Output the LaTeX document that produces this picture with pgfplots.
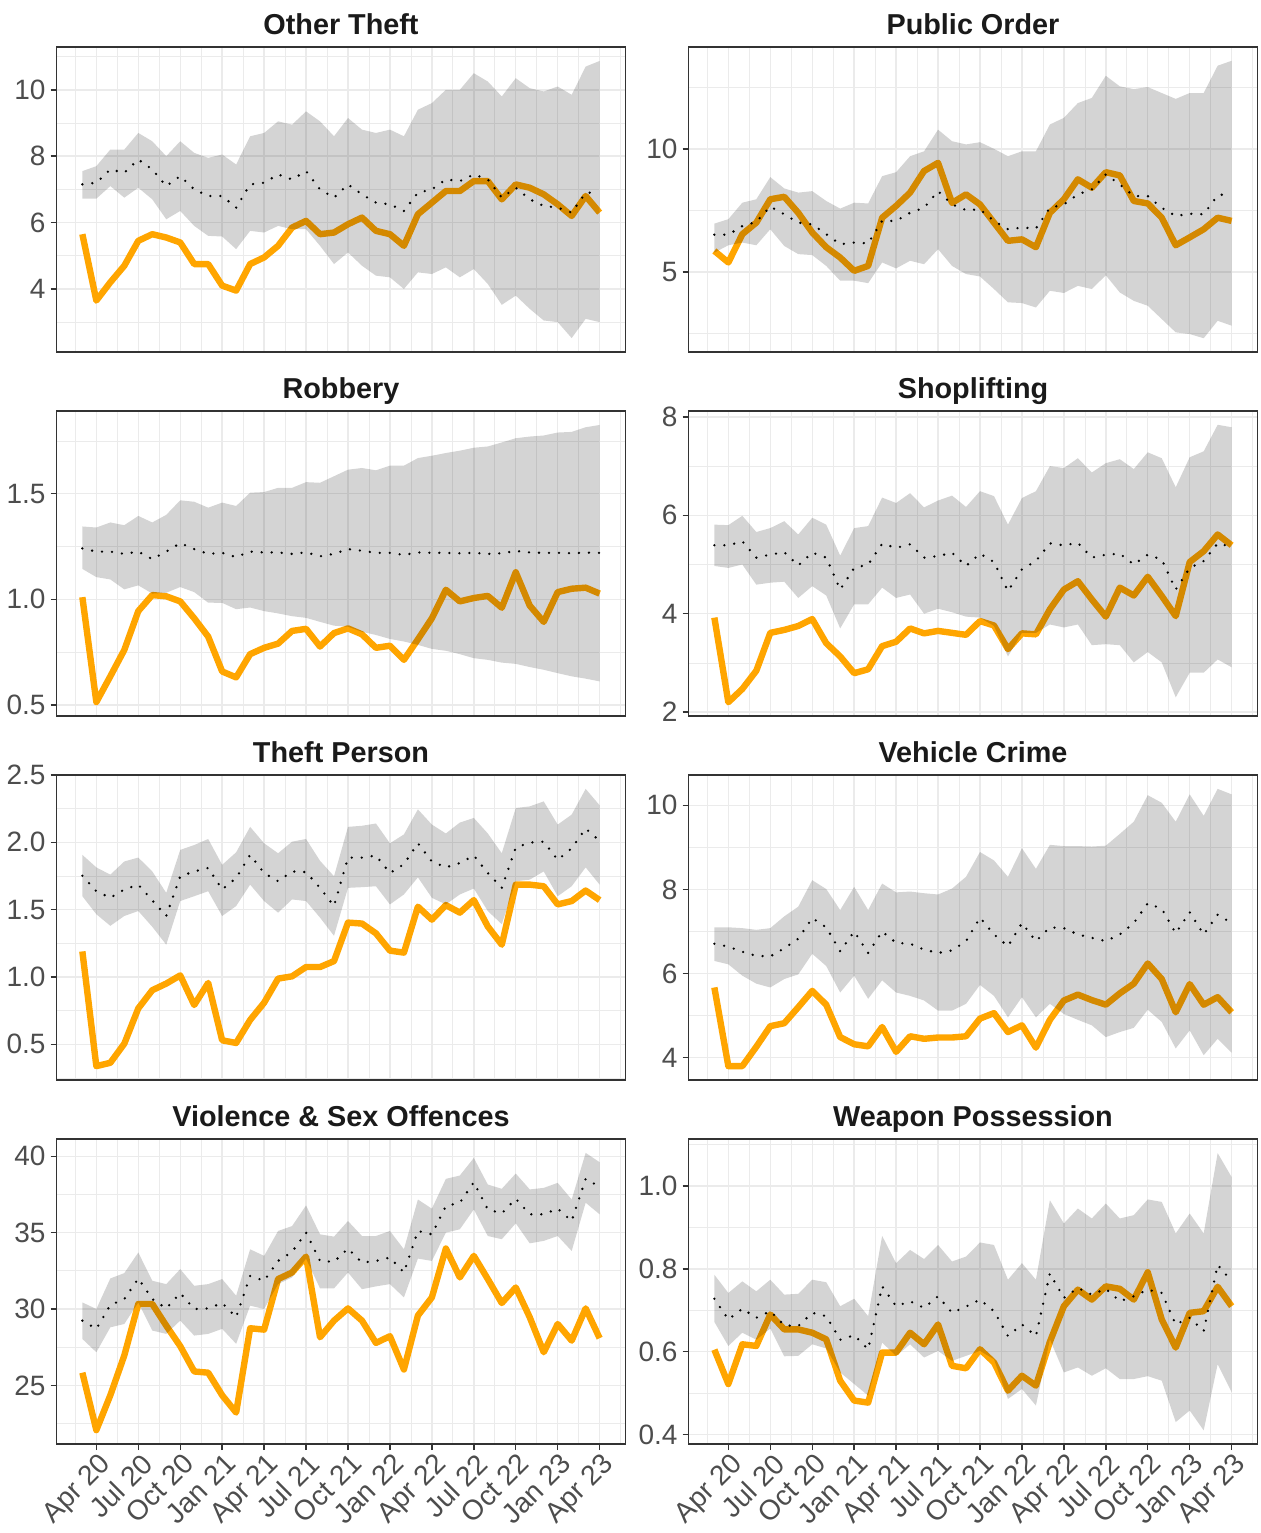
\documentclass[border=0pt]{standalone}
\usepackage{fontspec}
\setmainfont{Liberation Sans}
\usepackage{pgfplots}
\usepackage{pgfplotstable}
\pgfplotsset{compat=1.18}
\definecolor{orangec}{HTML}{FFA500}
\definecolor{gridc}{HTML}{EBEBEB}
\definecolor{borderc}{HTML}{333333}
\definecolor{labc}{HTML}{4D4D4D}
\definecolor{titc}{HTML}{1A1A1A}

\pgfplotstableread{
m lo hi med obs
0 6.72 7.55 7.15 5.65
1 6.72 7.70 7.20 3.65
2 7.10 8.20 7.60 4.20
3 6.75 8.20 7.50 4.70
4 7.05 8.70 7.90 5.45
5 6.70 8.45 7.60 5.65
6 6.10 8.00 7.10 5.55
7 6.35 8.45 7.40 5.40
8 5.90 8.10 7.00 4.75
9 5.60 7.95 6.80 4.75
10 5.58 8.05 6.80 4.10
11 5.20 7.75 6.45 3.95
12 5.75 8.60 7.15 4.75
13 5.70 8.70 7.20 4.95
14 5.90 9.05 7.45 5.30
15 5.80 8.95 7.30 5.85
16 5.80 9.35 7.55 6.05
17 5.30 9.05 7.00 5.65
18 4.75 8.60 6.75 5.70
19 5.10 9.15 7.15 5.95
20 4.70 8.80 6.85 6.15
21 4.40 8.70 6.60 5.75
22 4.35 8.80 6.55 5.65
23 4.00 8.60 6.35 5.30
24 4.50 9.40 6.90 6.25
25 4.45 9.60 7.00 6.60
26 4.65 10.00 7.30 6.95
27 4.35 10.00 7.25 6.95
28 4.60 10.50 7.45 7.25
29 4.15 10.25 7.30 7.25
30 3.52 9.80 6.75 6.70
31 3.80 10.35 7.05 7.15
32 3.40 10.05 6.70 7.05
33 3.05 9.95 6.50 6.85
34 3.00 10.10 6.45 6.55
35 2.52 9.85 6.30 6.20
36 3.10 10.70 6.90 6.80
37 3.00 10.87 6.90 6.30
}\tabA

\pgfplotstableread{
m lo hi med obs
0 5.78 6.96 6.51 5.85
1 6.08 7.14 6.51 5.38
2 6.19 7.81 6.86 6.53
3 6.08 7.95 7.03 7.00
4 6.73 8.85 7.65 7.95
5 6.05 8.39 7.34 8.05
6 5.72 8.22 7.00 7.40
7 5.68 8.28 6.93 6.60
8 5.24 7.88 6.53 6.00
9 4.64 7.57 6.12 5.58
10 4.64 7.81 6.19 5.04
11 4.54 7.78 6.16 5.24
12 5.38 8.89 7.07 7.20
13 5.14 9.05 7.07 7.68
14 5.45 9.70 7.40 8.22
15 5.31 9.90 7.60 9.10
16 5.92 10.78 8.28 9.43
17 5.24 10.31 7.74 7.80
18 4.91 10.18 7.51 8.15
19 4.81 10.27 7.54 7.74
20 4.30 10.00 7.07 7.00
21 3.76 9.70 6.73 6.26
22 3.73 9.90 6.80 6.32
23 3.55 9.90 6.76 6.00
24 4.23 10.99 7.60 7.40
25 4.14 11.26 7.74 7.95
26 4.43 11.86 8.15 8.76
27 4.30 12.07 8.35 8.42
28 4.86 12.97 8.96 9.05
29 4.16 12.54 8.55 8.92
30 3.82 12.43 8.08 7.88
31 3.62 12.51 8.08 7.78
32 3.08 12.27 7.60 7.20
33 2.54 12.03 7.27 6.08
34 2.47 12.27 7.36 6.40
35 2.30 12.27 7.34 6.73
36 3.01 13.38 8.11 7.20
37 2.81 13.58 8.19 7.07
}\tabB

\pgfplotstableread{
m lo hi med obs
0 1.144 1.345 1.241 1.010
1 1.105 1.340 1.226 0.513
2 1.094 1.364 1.226 0.635
3 1.047 1.351 1.215 0.760
4 1.066 1.395 1.226 0.944
5 1.027 1.364 1.190 1.020
6 1.031 1.400 1.226 1.014
7 1.058 1.469 1.266 0.990
8 1.034 1.462 1.238 0.910
9 0.984 1.434 1.215 0.823
10 0.983 1.458 1.220 0.658
11 0.953 1.442 1.200 0.630
12 0.961 1.505 1.226 0.740
13 0.944 1.508 1.222 0.770
14 0.933 1.528 1.222 0.790
15 0.920 1.528 1.215 0.850
16 0.912 1.555 1.222 0.860
17 0.893 1.552 1.204 0.776
18 0.875 1.583 1.215 0.840
19 0.870 1.614 1.238 0.862
20 0.846 1.622 1.230 0.834
21 0.831 1.611 1.220 0.770
22 0.812 1.633 1.220 0.780
23 0.800 1.633 1.210 0.713
24 0.784 1.669 1.222 0.810
25 0.765 1.680 1.220 0.910
26 0.756 1.693 1.220 1.045
27 0.740 1.704 1.218 0.990
28 0.721 1.718 1.220 1.006
29 0.713 1.724 1.215 1.016
30 0.700 1.743 1.218 0.960
31 0.694 1.763 1.229 1.128
32 0.679 1.771 1.222 0.970
33 0.666 1.776 1.220 0.893
34 0.650 1.790 1.220 1.034
35 0.635 1.793 1.218 1.050
36 0.624 1.815 1.221 1.055
37 0.611 1.826 1.220 1.027
}\tabC

\pgfplotstableread{
m lo hi med obs
0 4.97 5.81 5.39 3.92
1 4.93 5.80 5.39 2.20
2 5.00 5.99 5.47 2.47
3 4.59 5.66 5.14 2.84
4 4.63 5.74 5.20 3.61
5 4.65 5.88 5.25 3.67
6 4.32 5.61 4.98 3.75
7 4.56 5.95 5.24 3.89
8 4.37 5.81 5.14 3.40
9 3.70 5.18 4.49 3.13
10 4.19 5.74 4.93 2.79
11 4.19 5.78 5.00 2.87
12 4.53 6.36 5.42 3.34
13 4.32 6.25 5.34 3.43
14 4.39 6.45 5.41 3.70
15 4.00 6.16 5.14 3.60
16 4.10 6.30 5.17 3.65
17 4.03 6.40 5.24 3.61
18 3.94 6.17 4.97 3.57
19 3.92 6.49 5.22 3.85
20 3.75 6.39 5.05 3.76
21 3.13 5.81 4.46 3.28
22 3.61 6.35 4.90 3.60
23 3.61 6.49 5.07 3.58
24 3.78 7.00 5.43 4.09
25 3.72 6.96 5.39 4.49
26 3.78 7.16 5.44 4.66
27 3.36 6.87 5.14 4.29
28 3.38 7.06 5.20 3.94
29 3.36 7.14 5.22 4.53
30 3.01 6.94 5.00 4.37
31 3.22 7.28 5.20 4.75
32 3.01 7.16 5.10 4.36
33 2.30 6.57 4.49 3.95
34 2.80 7.18 4.93 5.05
35 2.80 7.30 5.07 5.27
36 3.07 7.84 5.43 5.61
37 2.91 7.79 5.36 5.39
}\tabD

\pgfplotstableread{
m lo hi med obs
0 1.600 1.907 1.752 1.190
1 1.466 1.814 1.637 0.338
2 1.380 1.760 1.588 0.363
3 1.453 1.858 1.650 0.505
4 1.490 1.887 1.686 0.767
5 1.373 1.784 1.569 0.902
6 1.240 1.625 1.453 0.951
7 1.564 1.944 1.748 1.012
8 1.600 1.980 1.784 0.792
9 1.637 2.025 1.810 0.956
10 1.453 1.833 1.650 0.530
11 1.527 1.926 1.735 0.510
12 1.686 2.115 1.907 0.681
13 1.564 1.993 1.772 0.809
14 1.478 1.919 1.711 0.988
15 1.576 2.005 1.784 1.005
16 1.564 2.025 1.779 1.074
17 1.441 1.863 1.662 1.074
18 1.306 1.748 1.527 1.118
19 1.662 2.115 1.887 1.404
20 1.667 2.123 1.887 1.397
21 1.674 2.140 1.902 1.324
22 1.539 1.993 1.772 1.196
23 1.613 2.059 1.838 1.181
24 1.740 2.245 1.993 1.522
25 1.588 2.132 1.858 1.426
26 1.539 2.066 1.814 1.534
27 1.613 2.147 1.846 1.478
28 1.657 2.181 1.902 1.571
29 1.490 2.066 1.772 1.375
30 1.392 1.919 1.662 1.240
31 1.711 2.255 1.961 1.686
32 1.723 2.267 1.998 1.686
33 1.784 2.304 2.005 1.674
34 1.600 2.132 1.870 1.539
35 1.674 2.206 1.956 1.564
36 1.814 2.397 2.103 1.642
37 1.686 2.275 2.010 1.571
}\tabE

\pgfplotstableread{
m lo hi med obs
0 6.30 7.10 6.71 5.67
1 6.22 7.10 6.64 3.80
2 5.95 7.08 6.52 3.80
3 5.76 7.04 6.42 4.26
4 5.67 7.08 6.41 4.75
5 5.87 7.36 6.60 4.82
6 5.98 7.59 6.83 5.20
7 6.47 8.22 7.32 5.59
8 6.18 8.01 7.10 5.26
9 5.55 7.51 6.53 4.49
10 5.95 8.06 7.00 4.32
11 5.40 7.51 6.49 4.27
12 5.84 8.14 7.00 4.73
13 5.55 7.93 6.73 4.14
14 5.47 7.95 6.71 4.51
15 5.36 7.91 6.57 4.45
16 5.12 7.88 6.49 4.48
17 5.12 8.02 6.55 4.48
18 5.28 8.30 6.77 4.51
19 5.73 8.89 7.33 4.93
20 5.47 8.69 6.93 5.06
21 4.96 8.30 6.65 4.61
22 5.44 8.98 7.20 4.77
23 4.96 8.49 6.77 4.24
24 5.28 9.06 7.10 4.90
25 5.04 9.03 7.08 5.36
26 4.90 9.03 6.93 5.50
27 4.77 9.02 6.85 5.37
28 4.49 9.04 6.77 5.26
29 4.61 9.32 6.93 5.53
30 4.71 9.61 7.20 5.76
31 5.14 10.24 7.67 6.24
32 4.85 10.06 7.54 5.87
33 4.22 9.61 6.96 5.08
34 4.65 10.26 7.46 5.75
35 4.06 9.75 6.93 5.26
36 4.45 10.39 7.40 5.44
37 4.12 10.26 7.20 5.08
}\tabF

\pgfplotstableread{
m lo hi med obs
0 28.04 30.43 29.24 25.83
1 27.17 30.00 28.70 22.07
2 28.80 32.00 30.26 24.35
3 29.02 32.35 30.65 26.96
4 30.43 33.70 32.00 30.33
5 28.59 31.85 30.65 30.33
6 28.37 31.63 30.04 28.91
7 29.24 32.61 31.04 27.57
8 28.26 31.52 30.00 25.91
9 28.37 31.63 30.04 25.83
10 28.70 31.96 30.39 24.35
11 27.72 30.87 29.46 23.22
12 30.22 33.91 32.17 28.74
13 30.00 33.48 31.85 28.65
14 31.63 35.11 33.15 31.96
15 32.07 35.43 33.74 32.39
16 33.30 36.78 35.00 33.43
17 31.35 34.89 33.15 28.15
18 31.35 34.74 33.09 29.24
19 32.39 35.76 33.96 30.04
20 31.30 34.78 33.04 29.24
21 31.48 34.78 33.15 27.78
22 31.63 35.11 33.37 28.22
23 30.76 33.91 32.39 26.04
24 33.30 37.17 35.11 29.57
25 33.15 36.57 34.89 30.76
26 35.00 38.52 36.74 33.96
27 35.22 38.74 36.96 32.07
28 36.52 39.89 38.30 33.48
29 34.78 38.15 36.52 31.96
30 34.57 37.87 36.26 30.39
31 35.61 38.87 37.22 31.41
32 34.30 37.83 36.20 29.46
33 34.46 37.93 36.20 27.17
34 34.78 38.26 36.57 29.02
35 33.80 37.17 35.76 27.93
36 36.96 40.22 38.52 30.04
37 36.20 39.61 38.00 28.09
}\tabG

\pgfplotstableread{
m lo hi med obs
0 0.672 0.786 0.728 0.605
1 0.614 0.742 0.678 0.522
2 0.646 0.770 0.704 0.618
3 0.629 0.746 0.682 0.614
4 0.656 0.774 0.698 0.690
5 0.589 0.738 0.664 0.654
6 0.590 0.740 0.662 0.654
7 0.618 0.774 0.694 0.646
8 0.608 0.768 0.686 0.630
9 0.550 0.710 0.629 0.530
10 0.522 0.728 0.640 0.482
11 0.494 0.686 0.606 0.477
12 0.622 0.880 0.758 0.598
13 0.590 0.814 0.710 0.598
14 0.618 0.846 0.722 0.646
15 0.586 0.824 0.706 0.618
16 0.602 0.858 0.734 0.666
17 0.578 0.818 0.694 0.566
18 0.590 0.830 0.709 0.560
19 0.602 0.864 0.726 0.606
20 0.582 0.858 0.698 0.574
21 0.486 0.774 0.638 0.506
22 0.510 0.814 0.666 0.542
23 0.470 0.774 0.638 0.518
24 0.630 0.966 0.789 0.624
25 0.550 0.910 0.730 0.710
26 0.562 0.946 0.754 0.750
27 0.542 0.922 0.738 0.726
28 0.560 0.958 0.752 0.758
29 0.534 0.922 0.722 0.752
30 0.534 0.930 0.734 0.726
31 0.541 0.968 0.750 0.792
32 0.530 0.962 0.742 0.678
33 0.430 0.886 0.666 0.610
34 0.458 0.934 0.682 0.694
35 0.410 0.886 0.650 0.698
36 0.570 1.080 0.810 0.757
37 0.502 1.022 0.770 0.710
}\tabH

\pgfplotsset{
  panel/.style={
    scale only axis, width=284.5pt, height=152.5pt, anchor=north west,
    xmin=-1.85, xmax=38.85,
    xtick={1,4,...,37}, minor xtick={-0.5,2.5,...,38.5},
    grid=both,
    major grid style={line width=0.7pt, draw=gridc},
    minor grid style={line width=0.35pt, draw=gridc},
    axis line style={line width=0.7pt, draw=borderc},
    tick align=outside, tick pos=left,
    major tick length=3pt, minor tick length=0pt,
    tick style={line width=0.7pt, draw=borderc},
    yticklabel style={font=\fontsize{14}{16}\selectfont, text=labc, inner sep=0pt, xshift=-2.3pt},
    title style={font=\bfseries\fontsize{14.4}{16}\selectfont, text=titc, anchor=base, at={(0.5,1)}, yshift=0.5pt, inner sep=0pt},
    clip=true,
  },
  toprow/.style={xticklabels={}, xtick style={draw=none}},
  bottomrow/.style={
    xticklabels={Apr 20,Jul 20,Oct 20,Jan 21,Apr 21,Jul 21,Oct 21,Jan 22,Apr 22,Jul 22,Oct 22,Jan 23,Apr 23},
    xticklabel style={rotate=45, anchor=north east, font=\fontsize{14}{16}\selectfont, text=labc, inner sep=0pt, yshift=-1pt},
  },
}

\newcommand{\drawpanel}[1]{%
  \addplot[orangec, line width=3.2pt, line join=round] table[x=m,y=obs]{#1};
  \addplot[draw=none, stack plots=y, forget plot] table[x=m,y=lo]{#1};
  \addplot[fill=black, fill opacity=0.17, draw=none, stack plots=y] table[x=m,y expr=\thisrow{hi}-\thisrow{lo}]{#1} \closedcycle;
  \addplot[black, line width=1.3pt, line cap=round, dash pattern=on 0pt off 5pt] table[x=m,y=med]{#1};
}

\begin{document}
\begin{tikzpicture}

% Row 1
\begin{axis}[panel, toprow, at={(28.25pt,-23.5pt)}, title={Other Theft},
  ymin=2.1, ymax=11.29, ytick={4,6,8,10}, yticklabels={4,6,8,10}, minor ytick={3,5,7,9,11}]
\drawpanel{\tabA}
\end{axis}
\begin{axis}[panel, toprow, at={(344.25pt,-23.5pt)}, title={Public Order},
  ymin=1.74, ymax=14.14, ytick={5,10}, yticklabels={5,10}, minor ytick={2.5,7.5,12.5}]
\drawpanel{\tabB}
\end{axis}

% Row 2
\begin{axis}[panel, toprow, at={(28.25pt,-205.5pt)}, title={Robbery},
  ymin=0.447, ymax=1.892, ytick={0.5,1.0,1.5}, yticklabels={0.5,1.0,1.5}, minor ytick={0.75,1.25,1.75}]
\drawpanel{\tabC}
\end{axis}
\begin{axis}[panel, toprow, at={(344.25pt,-205.5pt)}, title={Shoplifting},
  ymin=1.92, ymax=8.12, ytick={2,4,6,8}, yticklabels={2,4,6,8}, minor ytick={3,5,7}]
\drawpanel{\tabD}
\end{axis}

% Row 3
\begin{axis}[panel, toprow, at={(28.25pt,-387.5pt)}, title={Theft Person},
  ymin=0.235, ymax=2.5, ytick={0.5,1.0,1.5,2.0,2.5}, yticklabels={0.5,1.0,1.5,2.0,2.5}, minor ytick={0.25,0.75,1.25,1.75,2.25}]
\drawpanel{\tabE}
\end{axis}
\begin{axis}[panel, toprow, at={(344.25pt,-387.5pt)}, title={Vehicle Crime},
  ymin=3.47, ymax=10.72, ytick={4,6,8,10}, yticklabels={4,6,8,10}, minor ytick={5,7,9}]
\drawpanel{\tabF}
\end{axis}

% Row 4
\begin{axis}[panel, bottomrow, at={(28.25pt,-569.5pt)}, title={Violence \& Sex Offences},
  ymin=21.16, ymax=41.13, ytick={25,30,35,40}, yticklabels={25,30,35,40}, minor ytick={22.5,27.5,32.5,37.5}]
\drawpanel{\tabG}
\end{axis}
\begin{axis}[panel, bottomrow, at={(344.25pt,-569.5pt)}, title={Weapon Possession},
  ymin=0.377, ymax=1.114, ytick={0.4,0.6,0.8,1.0}, yticklabels={0.4,0.6,0.8,1.0}, minor ytick={0.5,0.7,0.9,1.1}]
\drawpanel{\tabH}
\end{axis}

\pgfresetboundingbox
\path[use as bounding box] (0,0) rectangle (630pt,-766.5pt);
\end{tikzpicture}
\end{document}
